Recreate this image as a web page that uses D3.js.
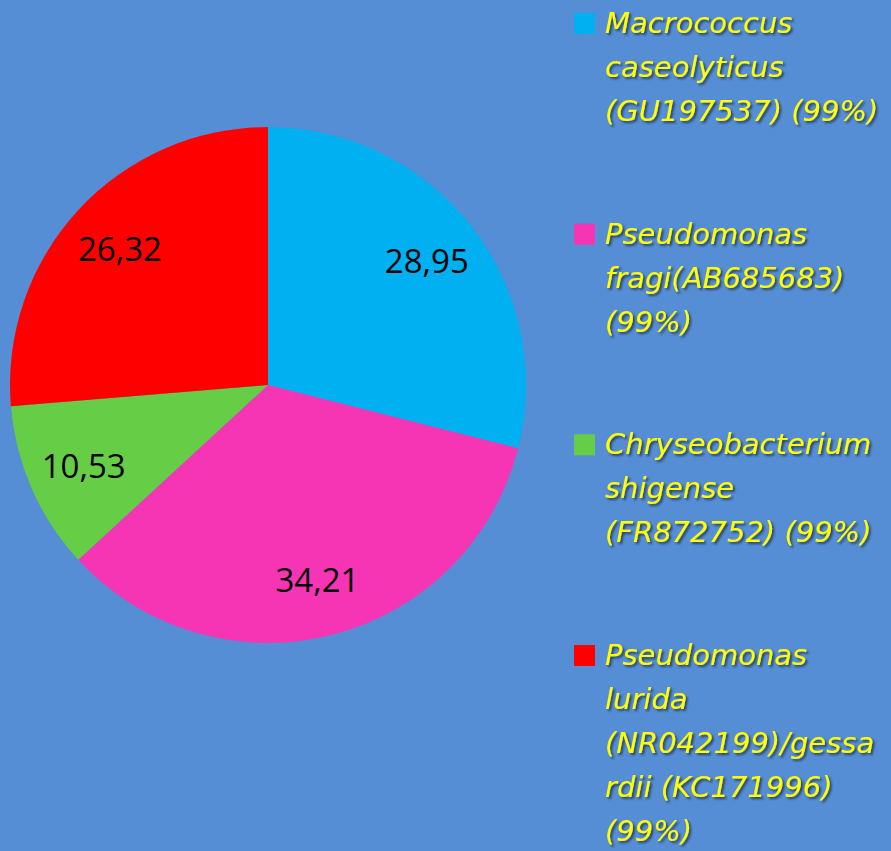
<!DOCTYPE html>
<html>
<head>
<meta charset="utf-8">
<script src="https://cdn.jsdelivr.net/npm/d3@7"></script>
<style>
  html, body { margin: 0; padding: 0; background: #558ED5; }
  svg { display: block; }
</style>
</head>
<body>
<div id="chart"></div>
<script>
// chart data
const species = ["Macrococcus caseolyticus", "Pseudomonas fragi", "Chryseobacterium shigense", "Pseudomonas lurida/gessardii"];
const percents = [28.95, 34.21, 10.53, 26.32];
const valueLabels = ["28,95", "34,21", "10,53", "26,32"];
// legend text, wrapped as in the original
const legendLines = [
  ["Macrococcus", "caseolyticus", "(GU197537) (99%)"],
  ["Pseudomonas", "fragi(AB685683)", "(99%)"],
  ["Chryseobacterium", "shigense", "(FR872752) (99%)"],
  ["Pseudomonas", "lurida", "(NR042199)/gessa", "rdii (KC171996)", "(99%)"]
];
const sliceColors = ["#00B0F0", "#F635B5", "#66CD47", "#FF0000"];

const width = 891, height = 851;
const cx = 268, cy = 385, radius = 258;

const svg = d3.select("#chart").append("svg")
  .attr("width", width)
  .attr("height", height);

// drop shadow for the legend text
const defs = svg.append("defs");
defs.append("filter")
  .attr("id", "shadow")
  .attr("x", "-10%").attr("y", "-30%")
  .attr("width", "130%").attr("height", "170%")
  .append("feDropShadow")
  .attr("dx", 2).attr("dy", 2)
  .attr("stdDeviation", 1.2)
  .attr("flood-color", "#1a2a40")
  .attr("flood-opacity", 0.75);

const color = d3.scaleOrdinal().domain(species).range(sliceColors);

const pie = d3.pie().sort(null).value((d, i) => percents[i]);
const arc = d3.arc().innerRadius(0).outerRadius(radius);
const labelArc = d3.arc().innerRadius(radius * 0.78).outerRadius(radius * 0.78);

const g = svg.append("g").attr("transform", "translate(" + cx + "," + cy + ")");

const slices = g.selectAll(".arc")
  .data(pie(species))
  .enter().append("g")
  .attr("class", "arc");

slices.append("path")
  .attr("d", arc)
  .attr("fill", d => color(d.data));

slices.append("text")
  .attr("transform", d => "translate(" + labelArc.centroid(d) + ")")
  .attr("dy", "0.36em")
  .attr("text-anchor", "middle")
  .style("font-family", "'Open Sans', 'Liberation Sans', sans-serif")
  .style("font-size", "33px")
  .attr("fill", "#000")
  .text((d, i) => valueLabels[i]);

// legend
const legendY = d3.scaleLinear().domain([0, 3]).range([33, 665]);
const lineH = 44;

const legend = svg.append("g").selectAll(".legend")
  .data(species)
  .enter().append("g")
  .attr("class", "legend")
  .attr("transform", (d, i) => "translate(0," + legendY(i) + ")");

legend.append("rect")
  .attr("x", 574)
  .attr("y", -20)
  .attr("width", 21)
  .attr("height", 21)
  .attr("fill", d => color(d));

legend.append("text")
  .attr("x", 605)
  .attr("y", 0)
  .attr("fill", "#FFFF00")
  .attr("filter", "url(#shadow)")
  .style("font-family", "'Comic Sans MS', 'DejaVu Sans', sans-serif")
  .style("font-style", "italic")
  .style("font-size", "29px")
  .selectAll("tspan")
  .data((d, i) => legendLines[i])
  .enter().append("tspan")
  .attr("x", 605)
  .attr("y", (d, j) => j * lineH)
  .text(d => d);
</script>
</body>
</html>
